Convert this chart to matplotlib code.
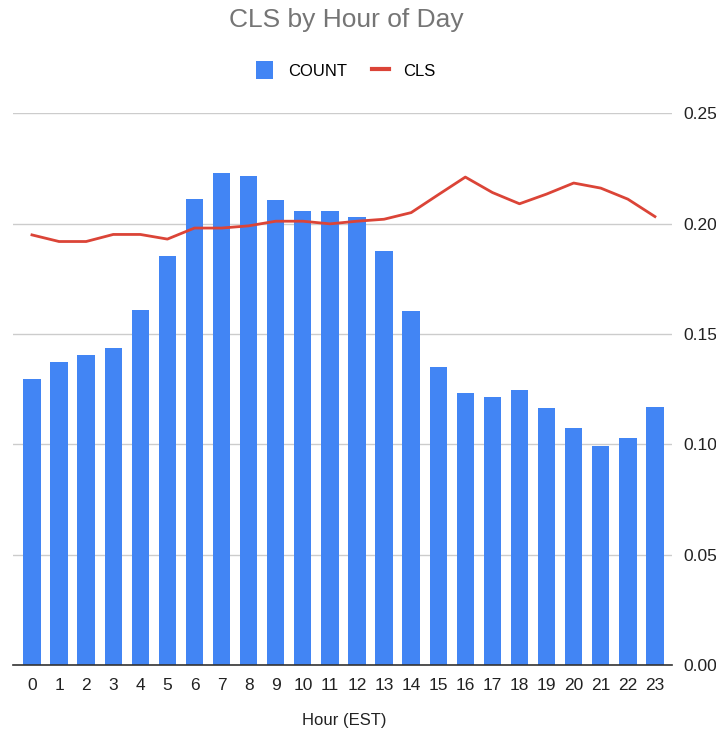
import numpy as np
import matplotlib.pyplot as plt
from matplotlib.patches import Patch
from matplotlib.lines import Line2D

plt.rcParams["font.family"] = ["Liberation Sans", "DejaVu Sans"]

hours = list(range(24))
count = [0.1296, 0.1374, 0.1405, 0.1436, 0.1608, 0.1854, 0.2112, 0.2230,
         0.2217, 0.2108, 0.2058, 0.2058, 0.2032, 0.1878, 0.1602, 0.1350,
         0.1232, 0.1213, 0.1245, 0.1164, 0.1073, 0.0993, 0.1029, 0.1171]
cls = [0.1949, 0.1919, 0.1919, 0.1951, 0.1951, 0.1930, 0.1980, 0.1980,
       0.1990, 0.2011, 0.2011, 0.1999, 0.2011, 0.2020, 0.2050, 0.2131,
       0.2211, 0.2141, 0.2090, 0.2134, 0.2184, 0.2161, 0.2111, 0.2032]
yticks = [0.00, 0.05, 0.10, 0.15, 0.20, 0.25]

blue = "#4285F4"
red = "#DB4437"

fig = plt.figure(figsize=(7.16, 7.32), dpi=100)
ax = fig.add_axes([13 / 716, 67 / 732, 659 / 716, 551.7 / 732])

ax.bar(hours, count, width=0.64, color=blue, zorder=2)
ax.plot(hours, cls, color=red, lw=2.0, zorder=3, solid_joinstyle="round")

ax.set_xlim(-0.7, 23.63)
ax.set_ylim(0, 0.25)
ax.set_xticks(hours)
ax.set_xticklabels([str(h) for h in hours], fontsize=12.5, color="#222222")
ax.set_yticks(yticks)
ax.set_yticklabels([f"{v:.2f}" for v in yticks], fontsize=12.5, color="#222222")
ax.yaxis.tick_right()
ax.tick_params(length=0, axis="x", pad=9)
ax.tick_params(length=0, axis="y", pad=8)
ax.grid(axis="y", color="#cccccc", lw=1.0, zorder=0)
for s in ["top", "left", "right"]:
    ax.spines[s].set_visible(False)
ax.spines["bottom"].set_color("#333333")
ax.spines["bottom"].set_linewidth(1.2)
ax.spines["bottom"].set_zorder(4)

fig.text(346 / 716, 1 - 20 / 732, "CLS by Hour of Day", ha="center", va="center",
         fontsize=19, color="#757575")
fig.text(344 / 716, 1 - 720 / 732, "Hour (EST)", ha="center", va="center",
         fontsize=12, color="#222222")

handles = [Patch(facecolor=blue, edgecolor="none"),
           Line2D([0], [0], color=red, lw=3)]
fig.legend(handles, ["COUNT", "CLS"], loc="center", bbox_to_anchor=(346 / 716, 1 - 70 / 732),
           ncol=2, frameon=False, fontsize=12, handlelength=1.0, handleheight=1.2,
           handletextpad=0.9, columnspacing=1.5)

fig.savefig("out.png", dpi=100)
